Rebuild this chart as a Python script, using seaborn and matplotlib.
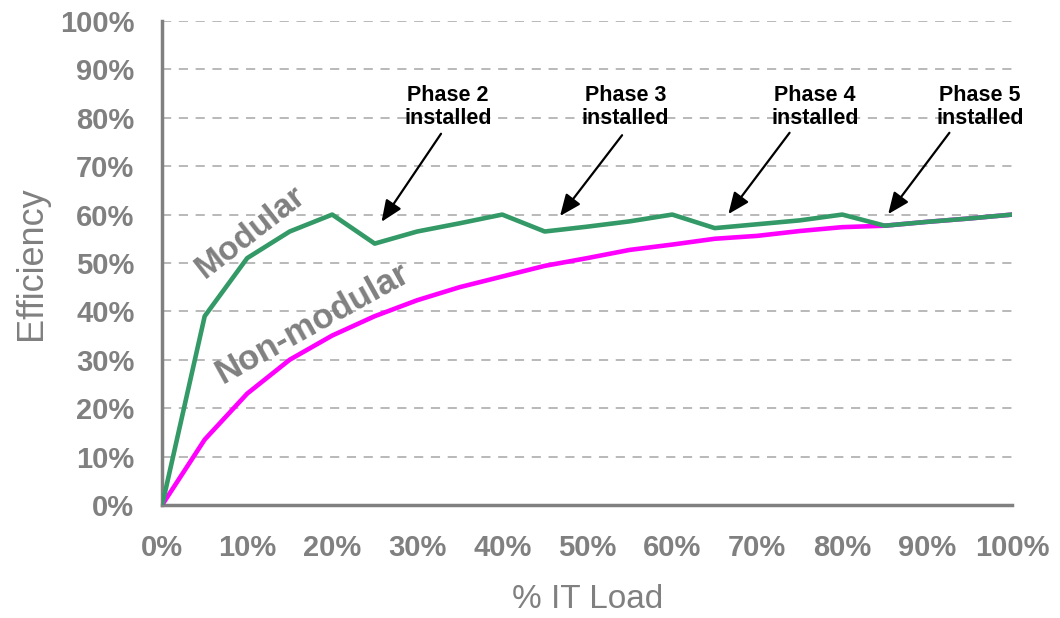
import matplotlib
matplotlib.use("Agg")
import matplotlib.pyplot as plt
import seaborn as sns
import pandas as pd
from matplotlib.ticker import FuncFormatter, MultipleLocator

load = [0, 5, 10, 15, 20, 25, 30, 35, 40, 45, 50, 55, 60, 65, 70, 75, 80, 85, 90, 95, 100]
modular = [0, 39, 51, 56.5, 60, 54, 56.5, 58.2, 60, 56.5, 57.5, 58.6, 60, 57.2, 58, 58.8, 60, 57.7, 58.5, 59.2, 60]
non_modular = [0, 13.5, 23, 30, 35, 39, 42.3, 45, 47.2, 49.4, 51, 52.7, 53.8, 55, 55.6, 56.6, 57.4, 57.7, 58.5, 59.2, 60]

phase_labels = ["Phase 2\ninstalled", "Phase 3\ninstalled", "Phase 4\ninstalled", "Phase 5\ninstalled"]
phase_text_x = [33.6, 54.5, 76.8, 96.2]
phase_head_x = [25.8, 46.8, 66.6, 85.4]
phase_head_y = [58.5, 59.7, 60.1, 60.1]
phase_tail_x = [32.8, 54.1, 73.8, 92.6]
phase_tail_y = [76.7, 76.4, 76.9, 76.9]

sns.set_style("white")
plt.rcParams['font.family'] = ['Liberation Sans', 'DejaVu Sans']

df = pd.DataFrame({
    "load": load * 2,
    "eff": modular + non_modular,
    "series": ["Modular"] * len(load) + ["Non-modular"] * len(load),
})

fig = plt.figure(figsize=(10.6, 6.18), dpi=100)
ax = fig.add_axes([0.153, 0.183, 0.802, 0.783])

gray = "#808080"
ax.yaxis.set_major_locator(MultipleLocator(10))
ax.xaxis.set_major_locator(MultipleLocator(10))
for v in range(10, 101, 10):
    ax.axhline(v, color="#a6a6a6", lw=1.1, ls=(0, (6, 5)), zorder=0)

sns.lineplot(data=df, x="load", y="eff", hue="series",
             palette={"Modular": "#339966", "Non-modular": "#ff00ff"},
             hue_order=["Non-modular", "Modular"],
             lw=3.3, legend=False, ax=ax, zorder=3)

ax.set_xlim(0, 100)
ax.set_ylim(0, 100)
ax.margins(0)
fmt = FuncFormatter(lambda v, p: f"{int(round(v))}%")
ax.xaxis.set_major_formatter(fmt)
ax.yaxis.set_major_formatter(fmt)

for s in ["top", "right"]:
    ax.spines[s].set_visible(False)
for s in ["left", "bottom"]:
    ax.spines[s].set_color(gray)
    ax.spines[s].set_linewidth(2.5)
ax.tick_params(axis="both", colors=gray, width=2.5, length=8, direction="out",
               labelsize=21, labelcolor=gray)
ax.tick_params(axis="x", pad=13)
ax.tick_params(axis="y", pad=12)
for lab in ax.get_xticklabels() + ax.get_yticklabels():
    lab.set_fontweight("bold")

ax.set_xlabel("% IT Load", fontsize=24, color=gray, labelpad=16)
ax.set_ylabel("Efficiency", fontsize=26, color=gray, labelpad=8)

ax.text(10.4, 56.3, "Modular", rotation=38, fontsize=24, fontweight="bold",
        color=gray, ha="center", va="center", rotation_mode="anchor")
ax.text(17.7, 37.6, "Non-modular", rotation=29, fontsize=25, fontweight="bold",
        color=gray, ha="center", va="center", rotation_mode="anchor")

for lab, tx, hx, hy, ttx, tty in zip(phase_labels, phase_text_x, phase_head_x,
                                     phase_head_y, phase_tail_x, phase_tail_y):
    ax.text(tx, 82.2, lab, fontsize=15.5, fontweight="bold", color="black",
            ha="center", va="center", linespacing=1.15)
    ax.annotate("", xy=(hx, hy), xytext=(ttx, tty),
                arrowprops=dict(arrowstyle="-|>,head_length=1.3,head_width=0.55",
                                color="black", lw=1.6, shrinkA=0, shrinkB=0))

fig.savefig("out.png", dpi=100)
